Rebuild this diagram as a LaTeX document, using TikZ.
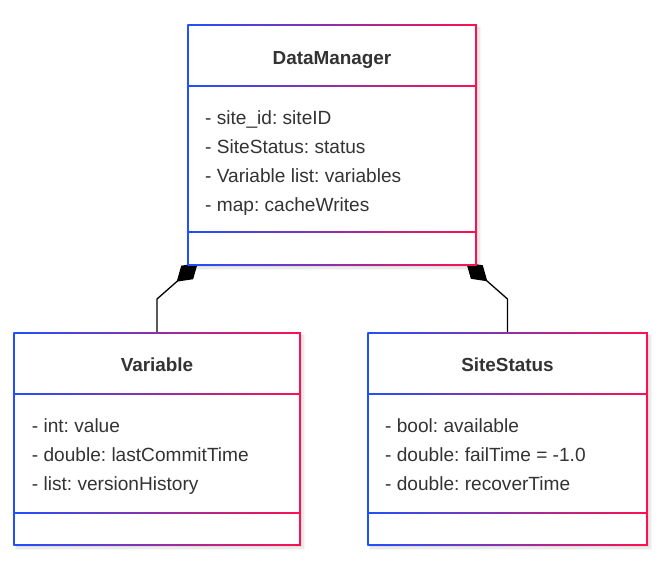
\documentclass[tikz,border=0pt]{standalone}
\usepackage{fontspec}
\setmainfont{Liberation Sans}
\usetikzlibrary{arrows.meta}
\definecolor{bl}{RGB}{32,80,255}
\definecolor{rd}{RGB}{255,16,80}
\definecolor{txt}{RGB}{51,51,51}
\newcommand{\umlframe}[6]{%
  \fill[black,opacity=0.035] ({#1+1},{#2+1}) rectangle ({#3+5},{#4+5});
  \fill[black,opacity=0.045] ({#1+1.5},{#2+1.5}) rectangle ({#3+3.5},{#4+3.5});
  \fill[black,opacity=0.06] ({#1+2},{#2+2}) rectangle ({#3+2},{#4+2});
  \shade[left color=bl,right color=rd] ({#1-0.75},{#2-0.75}) rectangle ({#3+0.75},{#4+0.75});
  \fill[white] ({#1+0.75},{#2+0.75}) rectangle ({#3-0.75},{#4-0.75});
  \shade[left color=bl,right color=rd] (#1,{#5-0.7}) rectangle (#3,{#5+0.7});
  \shade[left color=bl,right color=rd] (#1,{#6-0.7}) rectangle (#3,{#6+0.7});
}
\begin{document}
\frenchspacing
\begin{tikzpicture}[x=1pt,y=-1pt,
  boxnode/.style={draw=none,inner sep=0pt,outer sep=0pt},
  hdr/.style={font=\fontsize{18.9}{22}\selectfont\bfseries\frenchspacing,text=txt,anchor=base,inner sep=0pt},
  attr/.style={font=\fontsize{19.1}{22}\selectfont\frenchspacing,text=txt,anchor=base west,inner sep=0pt},
  conn/.style={line width=1.3pt,black,-{Diamond[length=28pt,width=18pt,fill=black]}}]
\useasboundingbox[fill=white] (0,0) rectangle (667,568);
% box nodes (geometry)
\node[boxnode,minimum width=288pt,minimum height=240pt] (dm) at (332,145) {};
\node[boxnode,minimum width=286pt,minimum height=212pt] (var) at (157,439) {};
\node[boxnode,minimum width=279pt,minimum height=212pt] (ss) at (507.5,439) {};
% connectors
\coordinate (bendL) at (157,299);
\coordinate (tipL) at (197.7,263.2);
\coordinate (bendR) at (507.5,299);
\coordinate (tipR) at (466.3,262.8);
\draw[conn] (var.north) -- (bendL) -- (tipL);
\draw[conn] (ss.north) -- (bendR) -- (tipR);
% frames
\umlframe{188}{25}{476}{265}{86}{232}
\umlframe{14}{333}{300}{545}{394}{513}
\umlframe{368}{333}{647}{545}{394}{513}
% texts
\node[hdr] (dmh) at (332,64.5) {DataManager};
\node[attr] (dm1) at (205,124.5) {- site\_id: siteID};
\node[attr] (dm2) at (205,153.3) {- SiteStatus: status};
\node[attr] (dm3) at (205,182.2) {- Variable list: variables};
\node[attr] (dm4) at (205,211) {- map: cacheWrites};
\node[hdr] (varh) at (157,371.7) {Variable};
\node[attr] (v1) at (31.7,432.7) {- int: value};
\node[attr] (v2) at (31.7,461.7) {- double: lastCommitTime};
\node[attr] (v3) at (31.7,490.7) {- list: versionHistory};
\node[hdr] (ssh) at (507.5,371.7) {SiteStatus};
\node[attr] (s1) at (385,432.7) {- bool: available};
\node[attr] (s2) at (385,461.7) {- double: failTime = -1.0};
\node[attr] (s3) at (385,490.7) {- double: recoverTime};
\end{tikzpicture}
\end{document}
